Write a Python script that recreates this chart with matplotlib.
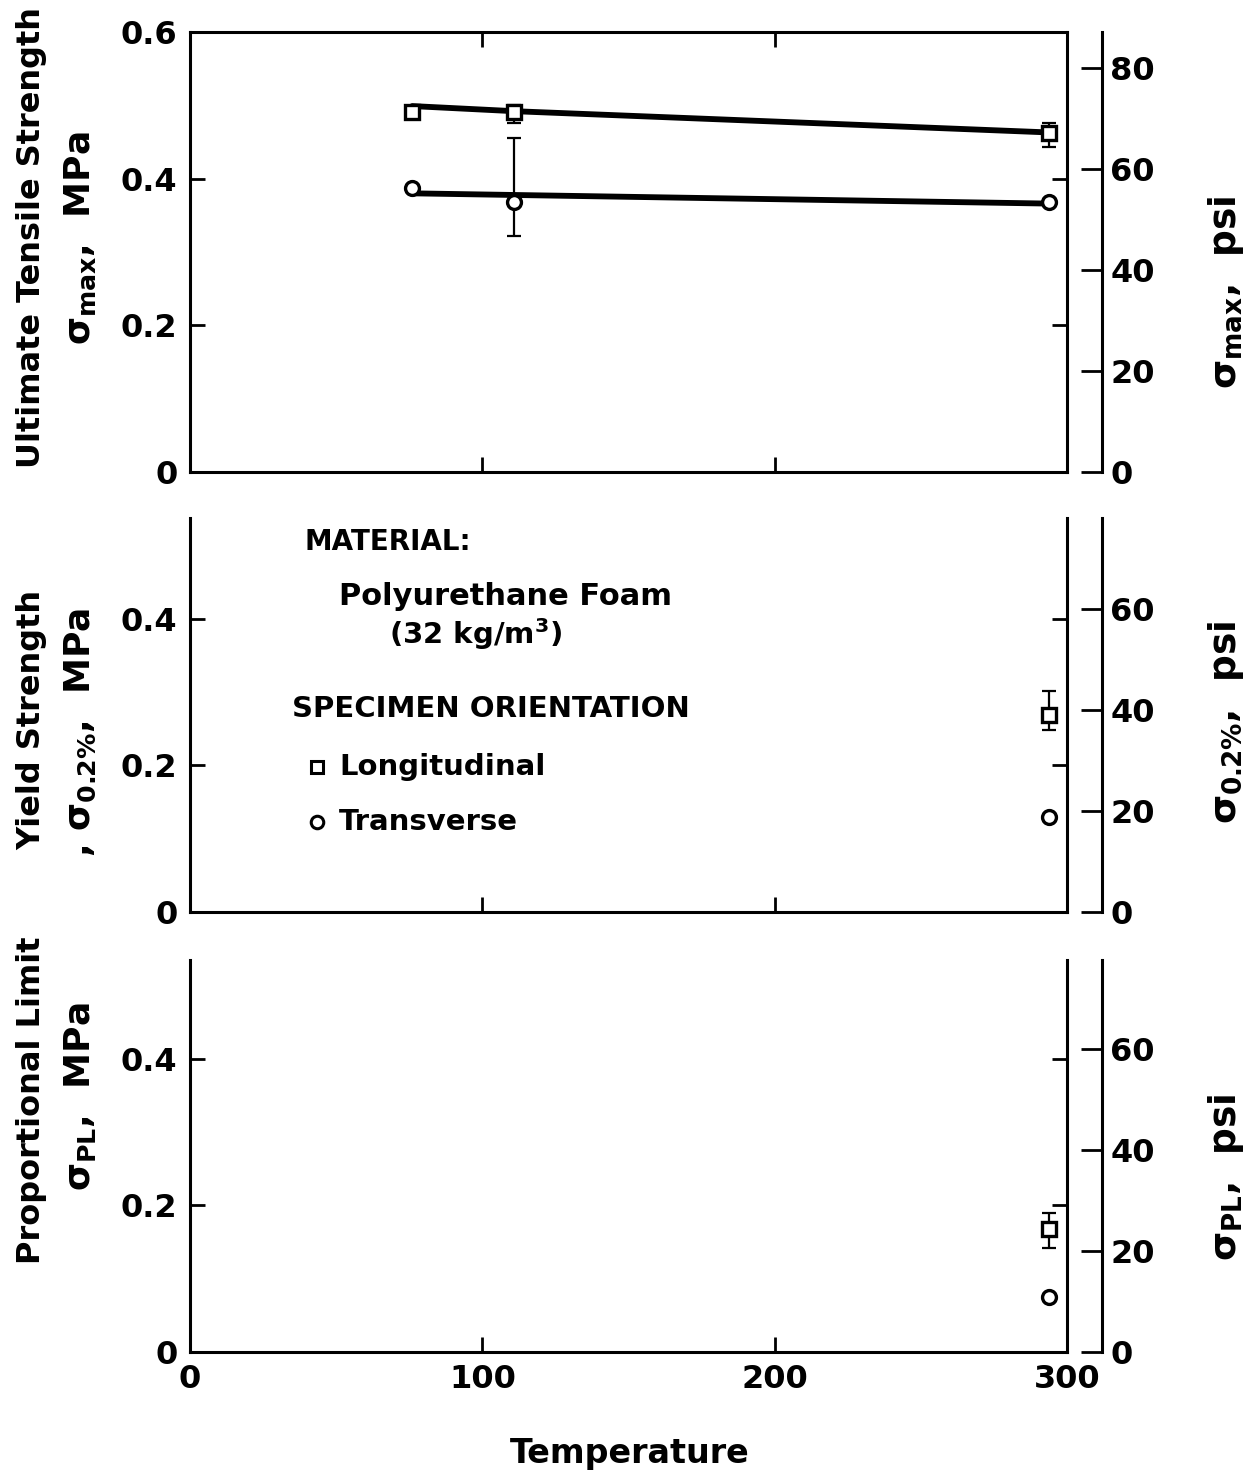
import numpy as np
import matplotlib
matplotlib.use('Agg')
import matplotlib.pyplot as plt

plt.rcParams['font.family'] = ['DejaVu Sans']
plt.rcParams['font.weight'] = 'bold'
plt.rcParams['mathtext.fontset'] = 'custom'
plt.rcParams['mathtext.rm'] = 'DejaVu Sans:bold'
plt.rcParams['mathtext.it'] = 'DejaVu Sans:bold'
plt.rcParams['mathtext.bf'] = 'DejaVu Sans:bold'

# --- data, stress in MPa, temperature in K ---
# ultimate tensile strength
uts_T = [76, 111, 294]
uts_long = [0.491, 0.491, 0.462]
uts_long_lo = [0.491, 0.476, 0.443]
uts_long_hi = [0.491, 0.500, 0.476]
uts_tran = [0.387, 0.368, 0.368]
uts_tran_lo = [0.387, 0.322, 0.368]
uts_tran_hi = [0.387, 0.456, 0.368]
# faired curves through the points
fit_long_T = [76, 111, 294]
fit_long = [0.499, 0.492, 0.463]
fit_tran_T = [76, 294]
fit_tran = [0.380, 0.366]

# yield strength (0.2% offset)
ys_T = [294]
ys_long = [0.269]
ys_long_lo = [0.248]
ys_long_hi = [0.301]
ys_tran = [0.130]

# proportional limit
pl_T = [294]
pl_long = [0.168]
pl_long_lo = [0.142]
pl_long_hi = [0.190]
pl_tran = [0.075]

MPA_PER_PSI = 0.00689476

def mpa2psi(v):
    return np.asarray(v) / MPA_PER_PSI

def psi2mpa(v):
    return np.asarray(v) * MPA_PER_PSI

fig = plt.figure(figsize=(12.48, 14.75), dpi=100)

W, H = 1248.0, 1475.0
x0, x1 = 190, 1067
panels = [(32, 472, 0.6), (518, 912, 0.5375), (960, 1352, 0.535)]
axes = []
for top, bot, ytop in panels:
    a = fig.add_axes([x0 / W, 1 - bot / H, (x1 - x0) / W, (bot - top) / H])
    a.set_xlim(0, 300)
    a.set_ylim(0, ytop)
    axes.append(a)

def errs(v, lo, hi):
    v = np.asarray(v); return [v - np.asarray(lo), np.asarray(hi) - v]

def points(a, T, v, marker, lo=None, hi=None):
    if lo is not None:
        a.errorbar(T, v, yerr=errs(v, lo, hi), fmt='none', ecolor='k',
                   elinewidth=1.6, capsize=5, capthick=1.6, zorder=2)
    a.plot(T, v, linestyle='none', marker=marker, ms=10, mfc='white',
           mec='k', mew=2.4, zorder=4, clip_on=False)

ax1, ax2, ax3 = axes
ax1.plot(fit_long_T, fit_long, color='k', lw=4.2, zorder=3, solid_capstyle='round')
ax1.plot(fit_tran_T, fit_tran, color='k', lw=4.2, zorder=3, solid_capstyle='round')
points(ax1, uts_T, uts_long, 's', uts_long_lo, uts_long_hi)
points(ax1, uts_T, uts_tran, 'o', uts_tran_lo, uts_tran_hi)

points(ax2, ys_T, ys_long, 's', ys_long_lo, ys_long_hi)
points(ax2, ys_T, ys_tran, 'o')

points(ax3, pl_T, pl_long, 's', pl_long_lo, pl_long_hi)
points(ax3, pl_T, pl_tran, 'o')

yticks = [[0, 0.2, 0.4, 0.6], [0, 0.2, 0.4], [0, 0.2, 0.4]]
yticklabels = [['0', '0.2', '0.4', '0.6'], ['0', '0.2', '0.4'], ['0', '0.2', '0.4']]
psi_ticks = [[0, 20, 40, 60, 80], [0, 20, 40, 60], [0, 20, 40, 60]]
for i, a in enumerate(axes):
    for s in a.spines.values():
        s.set_linewidth(2.2)
    a.spines['top'].set_visible(i == 0)
    a.set_yticks(yticks[i])
    a.set_yticklabels(yticklabels[i])
    a.set_xticks([0, 100, 200, 300])
    a.tick_params(axis='both', direction='in', length=11, width=2,
                  labelsize=23, pad=9, right=True, top=(i == 0))
    if i < 2:
        a.tick_params(axis='x', labelbottom=False)
    else:
        a.set_xticklabels(['0', '100', '200', '300'])
    sec = a.secondary_yaxis((1102 - x0) / (x1 - x0), functions=(mpa2psi, psi2mpa))
    sec.set_yticks(psi_ticks[i])
    sec.set_yticklabels([str(t) for t in psi_ticks[i]])
    sec.tick_params(direction='in', length=15, width=2, labelsize=23, pad=6)
    sec.spines['right'].set_linewidth(2.2)

# legend block in the middle panel
ax2.text(39, 0.505, 'MATERIAL:', fontsize=20, va='center', ha='left')
ax2.text(51, 0.430, 'Polyurethane Foam', fontsize=22, va='center', ha='left')
ax2.text(68, 0.379, '(32 kg/m$^{3}$)', fontsize=21, va='center', ha='left')
ax2.text(35, 0.277, 'SPECIMEN ORIENTATION', fontsize=21, va='center', ha='left')
ax2.plot([43.5], [0.198], linestyle='none', marker='s', ms=9, mfc='white', mec='k', mew=2.2)
ax2.text(51, 0.198, 'Longitudinal', fontsize=21, va='center', ha='left')
ax2.plot([43.5], [0.123], linestyle='none', marker='o', ms=9, mfc='white', mec='k', mew=2.2)
ax2.text(51, 0.123, 'Transverse', fontsize=21, va='center', ha='left')

def ftext(x, y, s, size=23):
    fig.text(x / W, 1 - y / H, s, rotation=90, ha='center', va='center',
             fontsize=size)

ftext(32, 238, 'Ultimate Tensile Strength')
ftext(80, 238, r'$σ_{max}$,  MPa', 26)
ftext(32, 720, 'Yield Strength')
ftext(80, 732, r', $σ_{0.2\%}$,  MPa', 26)
ftext(32, 1100, 'Proportional Limit')
ftext(80, 1097, r'$σ_{PL}$,  MPa', 26)

ftext(1226, 292, r'$σ_{max}$,  psi', 27)
ftext(1226, 722, r'$σ_{0.2\%}$,  psi', 27)
ftext(1226, 1177, r'$σ_{PL}$,  psi', 27)

fig.text(630 / W, 1 - 1453 / H, 'Temperature', ha='center', va='center', fontsize=24)

fig.savefig('out.png', dpi=100)
